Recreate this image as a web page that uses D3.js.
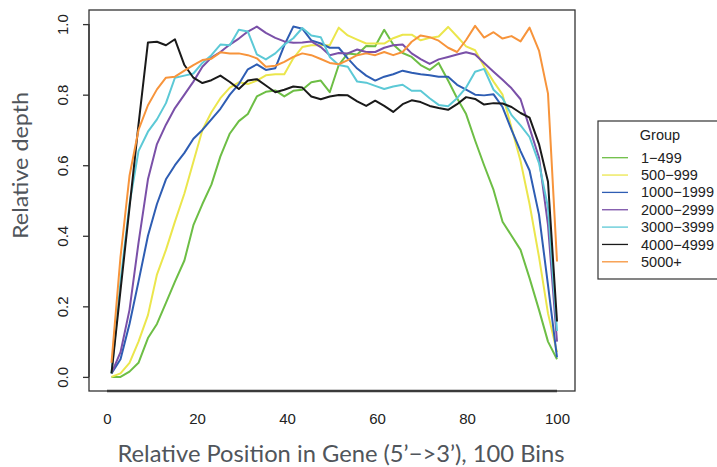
<!DOCTYPE html>
<html>
<head>
<meta charset="utf-8">
<script src="https://cdn.jsdelivr.net/npm/d3@7"></script>
<style>
  body { margin: 0; background: #fff; }
  svg { display: block; }
  .tick text { font-family: "Liberation Sans", Arial, sans-serif; font-size: 15px; fill: #222; }
  .title { font-family: "Lato", "Open Sans", sans-serif; fill: #50555b; }
  .leg text { font-family: "Liberation Sans", Arial, sans-serif; font-size: 14.5px; fill: #222; }
</style>
</head>
<body>
<svg id="chart" width="717" height="467"></svg>
<script>
// bin positions (50 points across the gene)
var bins = [1, 3, 5, 7, 9.1, 11.1, 13.1, 15.1, 17.2, 19.2, 21.2, 23.2, 25.2, 27.3, 29.3, 31.3, 33.3, 35.3, 37.4, 39.4,
  41.4, 43.4, 45.4, 47.5, 49.5, 51.5, 53.5, 55.6, 57.6, 59.6, 61.6, 63.6, 65.7, 67.7, 69.7, 71.7, 73.7, 75.8, 77.8, 79.8,
  81.8, 83.8, 85.9, 87.9, 89.9, 91.9, 93.9, 96, 98, 100];

var groups = ["1\u2212499", "500\u2212999", "1000\u22121999", "2000\u22122999", "3000\u22123999", "4000\u22124999", "5000+"];
var colors = ["#6dbe45", "#ebe64c", "#2e5db3", "#7a50a8", "#5cc9d6", "#1a1a1a", "#f7943b"];

var g1 = [0.0, 0.0, 0.015, 0.04, 0.11, 0.15, 0.21, 0.27, 0.33, 0.43, 0.49, 0.545, 0.625, 0.69, 0.725, 0.745, 0.795, 0.808, 0.812, 0.795,
  0.811, 0.814, 0.835, 0.84, 0.807, 0.884, 0.917, 0.914, 0.938, 0.937, 0.984, 0.942, 0.918, 0.907, 0.884, 0.87, 0.89, 0.84, 0.79, 0.745,
  0.67, 0.60, 0.53, 0.44, 0.40, 0.36, 0.28, 0.19, 0.10, 0.05];
var g2 = [0.0, 0.01, 0.04, 0.10, 0.175, 0.29, 0.36, 0.44, 0.52, 0.61, 0.70, 0.75, 0.79, 0.82, 0.835, 0.83, 0.84, 0.855, 0.858, 0.858,
  0.903, 0.935, 0.94, 0.94, 0.94, 0.99, 0.968, 0.956, 0.945, 0.945, 0.945, 0.96, 0.97, 0.97, 0.954, 0.961, 0.965, 0.992, 0.965, 0.937,
  0.926, 0.88, 0.837, 0.80, 0.706, 0.612, 0.49, 0.34, 0.18, 0.07];
var g3 = [0.01, 0.05, 0.15, 0.27, 0.40, 0.49, 0.56, 0.60, 0.635, 0.675, 0.70, 0.73, 0.76, 0.80, 0.83, 0.872, 0.886, 0.87, 0.875, 0.94,
  0.993, 0.987, 0.954, 0.945, 0.933, 0.933, 0.903, 0.874, 0.854, 0.84, 0.851, 0.858, 0.868, 0.862, 0.858, 0.855, 0.851, 0.851, 0.828, 0.814,
  0.80, 0.798, 0.801, 0.765, 0.70, 0.64, 0.585, 0.46, 0.26, 0.055];
var g4 = [0.01, 0.07, 0.19, 0.38, 0.56, 0.66, 0.715, 0.762, 0.80, 0.837, 0.879, 0.905, 0.921, 0.942, 0.959, 0.979, 0.993, 0.975, 0.961, 0.951,
  0.947, 0.948, 0.951, 0.935, 0.912, 0.918, 0.917, 0.928, 0.921, 0.921, 0.933, 0.94, 0.942, 0.917, 0.901, 0.887, 0.90, 0.907, 0.914, 0.92,
  0.914, 0.89, 0.865, 0.842, 0.818, 0.787, 0.706, 0.622, 0.43, 0.10];
var g5 = [0.01, 0.27, 0.49, 0.64, 0.695, 0.73, 0.776, 0.848, 0.854, 0.86, 0.89, 0.912, 0.942, 0.94, 0.984, 0.979, 0.914, 0.90, 0.917, 0.942,
  0.96, 0.989, 0.968, 0.963, 0.907, 0.884, 0.879, 0.837, 0.834, 0.825, 0.816, 0.823, 0.828, 0.811, 0.811, 0.79, 0.771, 0.767, 0.79, 0.82,
  0.865, 0.873, 0.814, 0.79, 0.742, 0.713, 0.68, 0.606, 0.48, 0.13];
var g6 = [0.01, 0.245, 0.48, 0.715, 0.948, 0.95, 0.94, 0.957, 0.884, 0.848, 0.833, 0.841, 0.854, 0.836, 0.816, 0.84, 0.844, 0.826, 0.807, 0.814,
  0.823, 0.82, 0.795, 0.787, 0.795, 0.799, 0.798, 0.781, 0.768, 0.783, 0.768, 0.751, 0.773, 0.784, 0.779, 0.768, 0.762, 0.757, 0.773, 0.793,
  0.788, 0.772, 0.776, 0.775, 0.765, 0.748, 0.735, 0.66, 0.553, 0.157];
var g7 = [0.04, 0.34, 0.57, 0.70, 0.77, 0.815, 0.848, 0.851, 0.868, 0.884, 0.898, 0.902, 0.92, 0.917, 0.917, 0.912, 0.903, 0.879, 0.882, 0.893,
  0.907, 0.917, 0.912, 0.901, 0.89, 0.886, 0.898, 0.912, 0.917, 0.912, 0.921, 0.912, 0.921, 0.95, 0.968, 0.963, 0.953, 0.933, 0.921, 0.955,
  0.995, 0.962, 0.977, 0.959, 0.966, 0.951, 0.99, 0.925, 0.803, 0.327];

var xTicks = [0, 20, 40, 60, 80, 100];
var yTicks = [0, 0.2, 0.4, 0.6, 0.8, 1.0];

var series = [g1, g2, g3, g4, g5, g6, g7];

var svg = d3.select("#chart");
var box = {left: 89, right: 575, top: 10, bottom: 391};

var x = d3.scaleLinear().domain([-4, 104]).range([box.left, box.right]);
var y = d3.scaleLinear().domain([-0.04, 1.04]).range([box.bottom, box.top]);

// plot frame
svg.append("rect")
  .attr("x", box.left).attr("y", box.top)
  .attr("width", box.right - box.left).attr("height", box.bottom - box.top)
  .attr("fill", "none").attr("stroke", "#333").attr("stroke-width", 1.3);

// y axis
var yAxis = svg.append("g")
  .attr("transform", "translate(" + box.left + ",0)")
  .call(d3.axisLeft(y).tickValues(yTicks).tickFormat(d3.format(".1f")).tickSize(6).tickPadding(4));
yAxis.select(".domain").attr("d", "M0," + y(0) + "V" + y(1)).attr("stroke", "#333").attr("stroke-width", 1.3);
yAxis.selectAll(".tick line").attr("stroke", "#333").attr("stroke-width", 1.3);
yAxis.selectAll(".tick text")
  .attr("text-anchor", "middle")
  .attr("transform", "translate(-26,0) rotate(-90)")
  .attr("x", 0).attr("dy", "0.35em");

// x axis: thick base line, labels only
var xAxis = svg.append("g")
  .attr("transform", "translate(0," + box.bottom + ")")
  .call(d3.axisBottom(x).tickValues(xTicks).tickSize(0).tickPadding(22));
xAxis.select(".domain").attr("d", "M" + x(0) + ",0H" + x(100)).attr("stroke", "#3a3a3a").attr("stroke-width", 2.6);

// lines
var line = d3.line()
  .x(function (d, i) { return x(bins[i]); })
  .y(function (d) { return y(d); });

svg.append("g").selectAll("path")
  .data(series)
  .enter().append("path")
  .attr("d", line)
  .attr("fill", "none")
  .attr("stroke", function (d, i) { return colors[i]; })
  .attr("stroke-width", 2)
  .attr("stroke-linejoin", "round");

// titles
svg.append("text").attr("class", "title")
  .attr("x", 341).attr("y", 462).attr("text-anchor", "middle")
  .attr("font-size", 23).attr("textLength", 447).attr("lengthAdjust", "spacingAndGlyphs")
  .text("Relative Position in Gene (5\u2019\u2212>3\u2019), 100 Bins");
svg.append("text").attr("class", "title")
  .attr("transform", "translate(28,165.5) rotate(-90)").attr("text-anchor", "middle")
  .attr("font-size", 21).attr("textLength", 147).attr("lengthAdjust", "spacingAndGlyphs")
  .text("Relative depth");

// legend
var leg = svg.append("g").attr("class", "leg");
leg.append("rect")
  .attr("x", 598).attr("y", 121).attr("width", 130).attr("height", 158)
  .attr("fill", "#fff").attr("stroke", "#333").attr("stroke-width", 1.2);
leg.append("text").attr("x", 660).attr("y", 140).attr("text-anchor", "middle").text("Group");
var items = leg.selectAll("g.item").data(groups).enter().append("g").attr("class", "item")
  .attr("transform", function (d, i) { return "translate(0," + (157.7 + i * 17.35) + ")"; });
items.append("line").attr("x1", 602).attr("x2", 628).attr("y1", 0).attr("y2", 0)
  .attr("stroke", function (d, i) { return colors[i]; }).attr("stroke-width", 1.3);
items.append("text").attr("x", 641).attr("y", 0).attr("dy", "0.35em").text(function (d) { return d; });
</script>
</body>
</html>
